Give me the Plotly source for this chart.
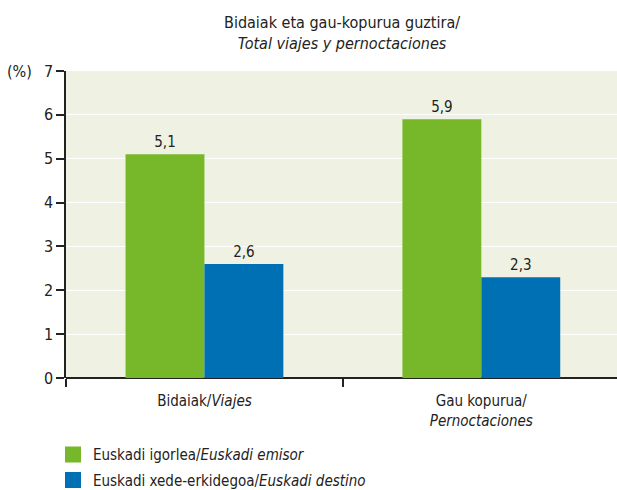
import plotly.graph_objects as go

# Chart data
categories = ["Bidaiak/<i>Viajes</i>", "Gau kopurua/<br><i>Pernoctaciones</i>"]
series_names = ["Euskadi igorlea/<i>Euskadi emisor</i>",
                "Euskadi xede-erkidegoa/<i>Euskadi destino</i>"]
emisor = [5.1, 5.9]
destino = [2.6, 2.3]
y_ticks = [0, 1, 2, 3, 4, 5, 6, 7]

FONT = "DejaVu Sans Condensed"
GREEN = "#76b82a"
BLUE = "#0070b5"
BG = "#eff2e3"
INK = "#222"

x_pos = list(range(len(categories)))
series = [(series_names[0], emisor, GREEN), (series_names[1], destino, BLUE)]

fig = go.Figure()
for i, (name, vals, col) in enumerate(series):
    fig.add_trace(go.Bar(
        x=x_pos, y=vals, name=name, marker_color=col, marker_line_width=0,
        text=[f"{v:.1f}".replace(".", ",") for v in vals],
        textposition="outside", cliponaxis=False,
        textfont=dict(family=FONT, size=15, color=INK),
        hoverinfo="skip", showlegend=False, legendgroup=f"g{i}",
    ))
    # larger square swatch for the legend entry
    fig.add_trace(go.Scatter(
        x=[None], y=[None], mode="markers", name=name,
        marker=dict(symbol="square", size=16, color=col, line_width=0),
        legendgroup=f"g{i}", showlegend=True, hoverinfo="skip",
    ))

fig.update_layout(
    width=617, height=490,
    margin=dict(l=66, r=0, t=71, b=112, autoexpand=False),
    paper_bgcolor="white", plot_bgcolor=BG,
    barmode="group", bargap=0.43, bargroupgap=0,
    font=dict(family=FONT, size=15, color=INK),
    showlegend=True,
    legend=dict(x=-0.0236, y=-0.196, xanchor="left", yanchor="top",
                orientation="v", traceorder="grouped",
                font=dict(family=FONT, size=15, color=INK),
                itemsizing="trace", tracegroupgap=3),
)

fig.update_xaxes(
    automargin=False,
    range=[-0.5, 1.49], tickmode="array", tickvals=x_pos, ticktext=categories,
    ticks="", showgrid=False, zeroline=False, showline=False,
    ticklabelstandoff=12,
    minor=dict(tickmode="array", tickvals=[-0.5, 0.5, 1.5], ticks="outside",
               ticklen=8, tickwidth=1.5, tickcolor=INK, showgrid=False),
    tickfont=dict(family=FONT, size=15, color=INK),
)
fig.update_yaxes(
    automargin=False,
    range=[0, 7], tickmode="array", tickvals=y_ticks,
    ticks="outside", ticklen=8, tickwidth=1.5, tickcolor=INK,
    showline=True, linecolor=INK, linewidth=1.5,
    showgrid=True, gridcolor="white", gridwidth=1,
    zeroline=True, zerolinecolor=INK, zerolinewidth=1.5,
    tickfont=dict(family=FONT, size=16, color=INK),
)

fig.add_annotation(text="(%)", xref="paper", yref="y", x=-0.058, y=7,
                   xanchor="right", yanchor="middle", showarrow=False,
                   font=dict(family=FONT, size=16, color=INK))
fig.add_annotation(text="Bidaiak eta gau-kopurua guztira/<br><i>Total viajes y pernoctaciones</i>",
                   xref="paper", yref="paper", x=0.5, y=1.0,
                   xanchor="center", yanchor="bottom", yshift=16, showarrow=False,
                   font=dict(family=FONT, size=16, color=INK))

fig.write_html("out.html")
